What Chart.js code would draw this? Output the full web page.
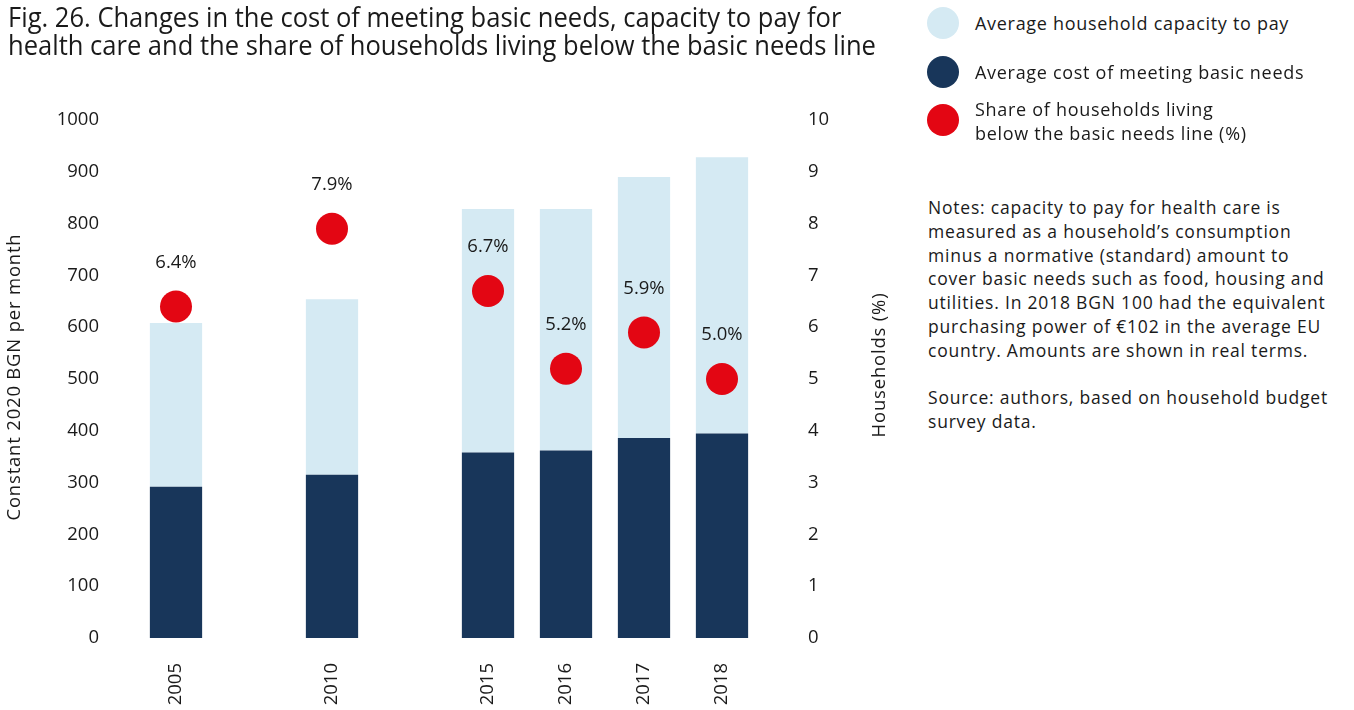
<!DOCTYPE html>
<html>
<head>
<meta charset="utf-8">
<script src="https://cdn.jsdelivr.net/npm/chart.js@4.4.0/dist/chart.umd.min.js"></script>
<style>
  body { margin: 0; background: #fff; color: #1a1a1a; font-family: "Open Sans", sans-serif; }
  #wrap { position: relative; width: 1354px; height: 710px; overflow: hidden; }
  #title { position: absolute; left: 8px; top: 2px; font-size: 28px; line-height: 28px; white-space: nowrap;
           transform: scaleX(0.912); transform-origin: 0 0; }
  #plot { position: absolute; left: 0; top: 0; }
  .leg { position: absolute; left: 927px; font-size: 18px; line-height: 23.5px; letter-spacing: 0.7px; }
  .leg span.dot { position: absolute; left: 0; width: 32px; height: 32px; border-radius: 50%; }
  .leg span.txt { position: absolute; left: 48px; white-space: nowrap; }
  #notes { position: absolute; left: 928px; top: 196px; font-size: 17.5px; line-height: 23.8px; letter-spacing: 0.8px; white-space: nowrap; }
</style>
</head>
<body>
<div id="wrap">
  <canvas id="plot" width="900" height="710"></canvas>
  <div id="title">Fig. 26. Changes in the cost of meeting basic needs, capacity to pay for<br>health care and the share of households living below the basic needs line</div>

  <div class="leg" style="top:7px"><span class="dot" style="background:#d5eaf3"></span><span class="txt" style="top:5px">Average household capacity to pay</span></div>
  <div class="leg" style="top:56px"><span class="dot" style="background:#18365a"></span><span class="txt" style="top:5px">Average cost of meeting basic needs</span></div>
  <div class="leg" style="top:104px"><span class="dot" style="background:#e30613"></span><span class="txt" style="top:-6px">Share of households living<br>below the basic needs line (%)</span></div>

  <div id="notes">Notes: capacity to pay for health care is<br>measured as a household’s consumption<br>minus a normative (standard) amount to<br>cover basic needs such as food, housing and<br>utilities. In 2018 BGN 100 had the equivalent<br>purchasing power of €102 in the average EU<br>country. Amounts are shown in real terms.<br><br>Source: authors, based on household budget<br>survey data.</div>
</div>

<script>
// empty slots keep the gaps between 2005, 2010 and 2015
var years = ['2005', '', '2010', '', '2015', '2016', '2017', '2018'];
var basicNeedsCost = [292, null, 315, null, 358, 362, 386, 395];
var capacityToPay = [316, null, 339, null, 470, 466, 504, 533];
var belowLineShare = [6.4, null, 7.9, null, 6.7, 5.2, 5.9, 5.0];

var ink = '#1a1a1a';
var tickFont = { family: 'Open Sans', size: 18.5 };

// percentage above each red dot
var shareLabels = {
  id: 'shareLabels',
  afterDatasetsDraw: function(chart) {
    var c = chart.ctx;
    var meta = chart.getDatasetMeta(2);
    c.save();
    c.font = '18.5px "Open Sans"';
    c.fillStyle = ink;
    c.textAlign = 'center';
    c.textBaseline = 'middle';
    meta.data.forEach(function(pt, i) {
      if (belowLineShare[i] == null) return;
      c.fillText(belowLineShare[i].toFixed(1) + '%', pt.x, pt.y - 44);
    });
    c.restore();
  }
};

// both axis titles read bottom-to-top
function sideTitle(c, text, x, y) {
  c.save();
  c.translate(x, y);
  c.rotate(-Math.PI / 2);
  c.font = '18.5px "Open Sans"';
  c.letterSpacing = '0.8px';
  c.fillStyle = ink;
  c.textAlign = 'center';
  c.textBaseline = 'middle';
  c.fillText(text, 0, 0);
  c.restore();
}
var axisTitles = {
  id: 'axisTitles',
  afterDraw: function(chart) {
    sideTitle(chart.ctx, 'Constant 2020 BGN per month', 15, 377);
    sideTitle(chart.ctx, 'Households (%)', 880, 365);
  }
};

new Chart(document.getElementById('plot').getContext('2d'), {
  type: 'bar',
  data: {
    labels: years,
    datasets: [
      {
        label: 'Average cost of meeting basic needs',
        data: basicNeedsCost,
        backgroundColor: '#18365a',
        yAxisID: 'y',
        order: 1
      },
      {
        label: 'Average household capacity to pay',
        data: capacityToPay,
        backgroundColor: '#d5eaf3',
        yAxisID: 'y',
        order: 1
      },
      {
        type: 'line',
        label: 'Share of households living below the basic needs line (%)',
        data: belowLineShare,
        yAxisID: 'y2',
        showLine: false,
        pointRadius: 16,
        pointHoverRadius: 16,
        pointBackgroundColor: '#e30613',
        pointBorderWidth: 0,
        order: 0
      }
    ]
  },
  options: {
    responsive: false,
    animation: false,
    layout: { padding: { left: 4, right: 9, top: 120, bottom: 0 } },
    datasets: { bar: { categoryPercentage: 1, barPercentage: 0.67 } },
    plugins: { legend: { display: false }, tooltip: { enabled: false } },
    scales: {
      x: {
        stacked: true,
        grid: { display: false, drawTicks: false },
        border: { display: false },
        ticks: { color: ink, font: tickFont, minRotation: 90, maxRotation: 90, padding: 25, autoSkip: false },
        afterFit: function(s) { s.height = 72; }
      },
      y: {
        stacked: true,
        min: 0, max: 1000,
        grid: { display: false, drawTicks: false },
        border: { display: false },
        ticks: { color: ink, font: tickFont, stepSize: 100, padding: 38,
                 callback: function(v) { return String(v); } },
        afterFit: function(s) { s.width = 133; }
      },
      y2: {
        position: 'right',
        min: 0, max: 10,
        grid: { display: false, drawTicks: false },
        border: { display: false },
        ticks: { color: ink, font: tickFont, stepSize: 1, padding: 47 },
        afterFit: function(s) { s.width = 130; }
      }
    }
  },
  plugins: [shareLabels, axisTitles]
});
</script>
</body>
</html>
